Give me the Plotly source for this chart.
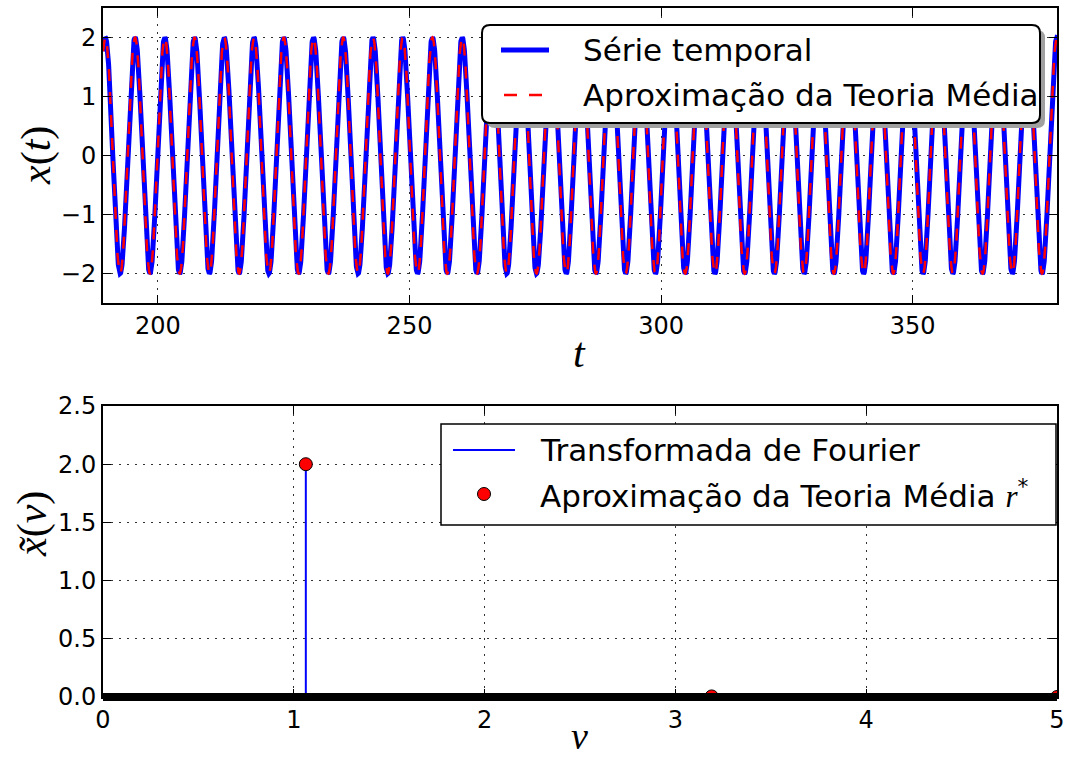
import numpy as np
import plotly.graph_objects as go

# ---- data -------------------------------------------------------------
# visible time window of the simulation
t_window = [189.07, 378.7]
# oscillation: amplitude, angular frequency, time of a maximum
series_amplitude = [2.0]
series_omega = [1.063]
series_t_peak = [189.53]
# mean-field (teoria média) approximation of the same oscillation
mf_amplitude = [2.0]
mf_omega = [1.063]
mf_t_peak = [189.53]

# Fourier spectrum: peak frequency and height
fourier_nu = [1.063]
fourier_amp = [2.0]
# mean-field harmonic amplitudes r*
mf_nu = [1.063, 3.19, 5.0]
mf_r = [2.0, 0.005, 0.0]

top_xticks = [200, 250, 300, 350]
top_yticks = [-2, -1, 0, 1, 2]
bot_xticks = [0, 1, 2, 3, 4, 5]
bot_yticks = [0.0, 0.5, 1.0, 1.5, 2.0, 2.5]

legend_top_labels = ["Série temporal", "Aproximação da Teoria Média"]
legend_bot_labels = ["Transformada de Fourier", "Aproximação da Teoria Média"]

# ---- curves -----------------------------------------------------------
t = np.linspace(t_window[0], t_window[1], 6000)
x_series = series_amplitude[0] * np.cos(series_omega[0] * (t - series_t_peak[0]))
x_mf = mf_amplitude[0] * np.cos(mf_omega[0] * (t - mf_t_peak[0]))

stem_x, stem_y = [], []
for nu, a in zip(fourier_nu, fourier_amp):
    stem_x += [nu, nu, None]
    stem_y += [0.0, a, None]

FONT = "DejaVu Sans"
MATH = "Liberation Serif"
BLUE, RED = "#0000ff", "#ff0000"
DASH = "12px,11px"

fig = go.Figure()
fig.add_trace(go.Scatter(x=t, y=x_series, mode="lines", name=legend_top_labels[0],
                         line=dict(color=BLUE, width=5), xaxis="x", yaxis="y"))
fig.add_trace(go.Scatter(x=t, y=x_mf, mode="lines", name=legend_top_labels[1],
                         line=dict(color=RED, width=2.5, dash=DASH), xaxis="x", yaxis="y"))
fig.add_trace(go.Scatter(x=stem_x, y=stem_y, mode="lines", name=legend_bot_labels[0],
                         line=dict(color=BLUE, width=2), xaxis="x2", yaxis="y2"))
fig.add_trace(go.Scatter(x=mf_nu, y=mf_r, mode="markers", name=legend_bot_labels[1],
                         marker=dict(color=RED, size=13, line=dict(color="black", width=1)),
                         cliponaxis=True, xaxis="x2", yaxis="y2"))

axis_common = dict(
    showline=True, linecolor="black", linewidth=2, mirror="ticks",
    ticks="inside", ticklen=8, tickwidth=1, tickcolor="black",
    showgrid=True, gridcolor="#333333", gridwidth=1, griddash="2px,6px",
    zeroline=False, automargin=False,
    tickfont=dict(family=FONT, size=24, color="black"),
)

# ---- page geometry (plot area in pixels) -------------------------------
L, R, T, B = 103, 11, 8, 63
W, H = 1068.0 - L - R, 760.0 - T - B
def px(xp):
    return (xp - L) / W
def py(yp):
    return (760.0 - B - yp) / H

top_dom = [py(303), 1.0]
bot_dom = [0.0, py(406)]

def rounded_rect(x0, y0, x1, y1, rx, ry):
    return (f"M{x0+rx},{y0} L{x1-rx},{y0} Q{x1},{y0} {x1},{y0+ry} "
            f"L{x1},{y1-ry} Q{x1},{y1} {x1-rx},{y1} L{x0+rx},{y1} "
            f"Q{x0},{y1} {x0},{y1-ry} L{x0},{y0+ry} Q{x0},{y0} {x0+rx},{y0} Z")

rx, ry = 8 / W, 8 / H
lx0, lx1, ly0, ly1 = px(482), px(1040), py(123), py(25)

shapes = [
    # upper legend: drop shadow and rounded frame
    dict(type="path", path=rounded_rect(lx0 + 5 / W, ly0 - 5 / H, lx1 + 5 / W, ly1 - 5 / H, rx, ry),
         xref="paper", yref="paper", layer="above", fillcolor="#a0a0a0", line=dict(width=0)),
    dict(type="path", path=rounded_rect(lx0, ly0, lx1, ly1, rx, ry),
         xref="paper", yref="paper", layer="above", fillcolor="white",
         line=dict(color="black", width=2)),
    # upper legend keys
    dict(type="line", xref="paper", yref="paper", layer="above",
         x0=px(501), x1=px(549), y0=py(50), y1=py(50), line=dict(color=BLUE, width=5)),
    dict(type="line", xref="paper", yref="paper", layer="above",
         x0=px(504), x1=px(542), y0=py(95), y1=py(95), line=dict(color=RED, width=2.5, dash="13px,12px")),
    # lower legend frame and keys
    dict(type="rect", xref="paper", yref="paper", layer="above",
         x0=px(441), x1=px(1056), y0=py(525), y1=py(424),
         fillcolor="white", line=dict(color="black", width=1.5)),
    dict(type="line", xref="paper", yref="paper", layer="above",
         x0=px(453), x1=px(515), y0=py(450), y1=py(450), line=dict(color=BLUE, width=2)),
    dict(type="circle", xref="paper", yref="paper", layer="above",
         x0=px(484 - 6.5), x1=px(484 + 6.5), y0=py(494 + 6.5), y1=py(494 - 6.5),
         fillcolor=RED, line=dict(color="black", width=1)),
    # heavy baseline of the spectrum
    dict(type="line", xref="x2 domain", yref="y2 domain", layer="above",
         x0=0, x1=1, y0=0, y1=0, line=dict(color="black", width=8)),
]

leg_font = dict(family=FONT, size=31, color="black")
def legend_text(text, xp, yp):
    return dict(text=text, xref="paper", yref="paper", x=px(xp), y=py(yp),
                xanchor="left", yanchor="middle", showarrow=False, font=leg_font)

def axis_title(text, xp, yp, angle=0, size=42):
    return dict(text=text, xref="paper", yref="paper", x=px(xp), y=py(yp),
                xanchor="center", yanchor="middle", showarrow=False,
                textangle=angle, font=dict(family=MATH, size=size, color="black"))

annotations = [
    legend_text(legend_top_labels[0], 581, 50),
    legend_text(legend_top_labels[1], 581, 95),
    legend_text(legend_bot_labels[0], 538, 450),
    legend_text(legend_bot_labels[1] + " <span style=\"font-family:%s\"><i>r</i></span><sup>*</sup>" % MATH,
                538, 494),
    axis_title("<i>t</i>", 579, 353),
    axis_title("<i>x</i>(<i>t</i>)", 36, 156, -90),
    axis_title("<i>ν</i>", 579, 736, size=38),
    axis_title("<i>x̃</i>(<i>ν</i>)", 32, 524, -90),
]

fig.update_layout(
    width=1068, height=760,
    margin=dict(l=L, r=R, t=T, b=B),
    paper_bgcolor="white", plot_bgcolor="white",
    font=dict(family=FONT, color="black"),
    showlegend=False,
    xaxis=dict(axis_common, domain=[0, 1], anchor="y", range=t_window, tickvals=top_xticks),
    yaxis=dict(axis_common, domain=top_dom, anchor="x", range=[-2.5, 2.5], tickvals=top_yticks),
    xaxis2=dict(axis_common, domain=[0, 1], anchor="y2", range=[0, 5], tickvals=bot_xticks),
    yaxis2=dict(axis_common, domain=bot_dom, anchor="x2", range=[0, 2.5], tickvals=bot_yticks,
                tickformat=".1f"),
    shapes=shapes,
    annotations=annotations,
)

fig.write_html("out.html")
